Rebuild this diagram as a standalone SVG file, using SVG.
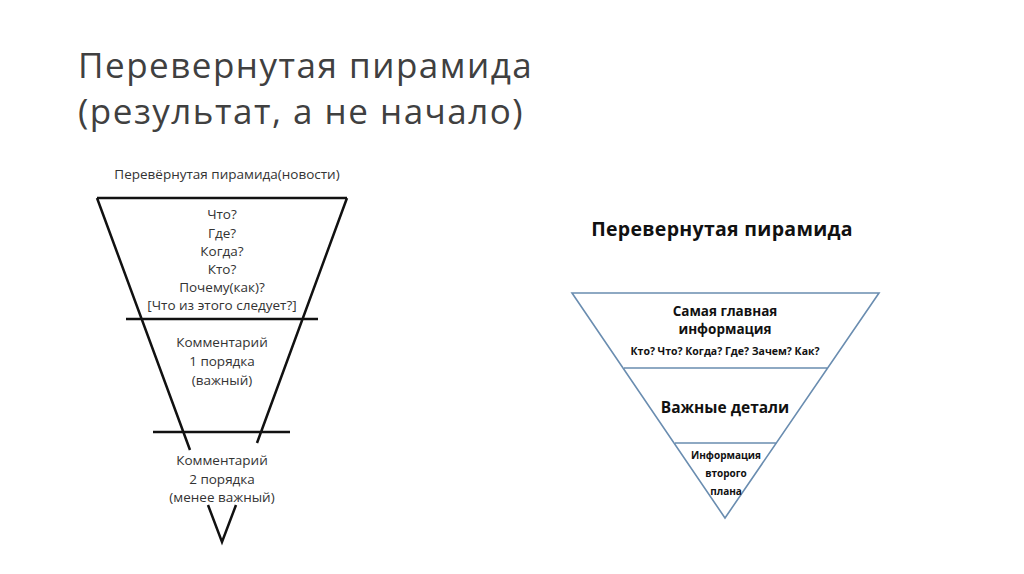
<svg xmlns="http://www.w3.org/2000/svg" width="1024" height="574" viewBox="0 0 1024 574">
<style>
.t{font-family:"Open Sans","Liberation Sans",sans-serif;fill:#333;text-anchor:middle;font-size:13.5px}
.b{font-family:"Open Sans","Liberation Sans",sans-serif;font-weight:bold;fill:#111;text-anchor:middle}
.k{stroke:#111;stroke-width:2.5;fill:none}
.u{stroke:#6a8db0;stroke-width:1.6;fill:none}
</style>
<rect width="1024" height="574" fill="#fff"/>
<g id="title" font-family="Open Sans,Liberation Sans,sans-serif" font-size="35" fill="#404040" letter-spacing="1.5">
<text x="78" y="78">Перевернутая пирамида</text>
<text x="78" y="124">(результат, а не начало)</text>
</g>
<g id="left-pyramid">
<text class="t" x="227" y="179">Перевёрнутая пирамида(новости)</text>
<path class="k" d="M97,198H347M97,198L190,450M347,198L257,443M126,319H318M153,432H290M208,505L222,542L236,505"/>
<g id="l1"><text class="t" x="222" y="219">Что?</text><text class="t" x="222" y="238">Где?</text><text class="t" x="222" y="256">Когда?</text><text class="t" x="222" y="274">Кто?</text><text class="t" x="222" y="292">Почему(как)?</text><text class="t" x="222" y="310">[Что из этого следует?]</text></g>
<g id="l2"><text class="t" x="222" y="347">Комментарий</text><text class="t" x="222" y="366">1 порядка</text><text class="t" x="222" y="385">(важный)</text></g>
<g id="l3"><text class="t" x="222" y="465">Комментарий</text><text class="t" x="222" y="484">2 порядка</text><text class="t" x="222" y="502">(менее важный)</text></g>
</g>
<g id="right-pyramid">
<text class="b" x="722" y="236" font-size="19.5" letter-spacing="0.3">Перевернутая пирамида</text>
<path class="u" d="M572,293H879L725,518Z M624,368H828 M675,443H777"/>
<g id="r1"><text class="b" x="725" y="316" font-size="13.5">Самая главная</text><text class="b" x="725" y="334" font-size="13.5">информация</text><text class="b" x="725" y="355" font-size="10.5">Кто? Что? Когда? Где? Зачем? Как?</text></g>
<g id="r2"><text class="b" x="725" y="413" font-size="15.5">Важные детали</text></g>
<g id="r3"><text class="b" x="726" y="459" font-size="10">Информация</text><text class="b" x="726" y="477" font-size="10">второго</text><text class="b" x="726" y="495" font-size="10">плана</text></g>
</g>
</svg>
